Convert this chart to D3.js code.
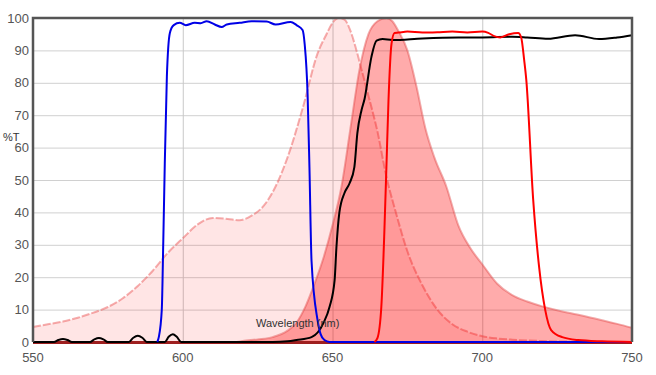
<!DOCTYPE html>
<html>
<head>
<meta charset="utf-8">
<script src="https://cdn.jsdelivr.net/npm/d3@7"></script>
<style>
  body { margin: 0; background: #fff; }
  svg { font-family: Arial, "Liberation Sans", sans-serif; }
  .tick-label { font-size: 13px; fill: #555; }
  .axis-title { font-size: 11px; fill: #333; }
</style>
</head>
<body>
<svg id="spectra"></svg>
<script>
// set svg size and plot margins
const width = 656;
const height = 375;

const margin = { top: 18, bottom: 33, left: 33, right: 24 };

const plotWidth = width - margin.left - margin.right;
const plotHeight = height - margin.top - margin.bottom;

// tick values
const xTicks = [550, 600, 650, 700, 750];
const yTicks = [0, 10, 20, 30, 40, 50, 60, 70, 80, 90, 100];
const xGridTicks = [600, 650, 700];

// [wavelength nm, %T]
const excitation = [
  [550, 4.6], [555, 5.5], [560, 6.3], [565, 7.5], [570, 9.0], [575, 10.8],
  [580, 13.5], [585, 17.3], [590, 22], [595, 27.5], [600, 32], [605, 36.3],
  [610, 38.3], [615, 38], [619, 37.6], [623, 39], [627, 42], [631, 48],
  [635, 57], [640, 72], [645, 89], [648, 95], [650, 98.5], [652, 100],
  [654, 99.5], [656, 96], [658, 90], [660, 83], [662, 76], [665, 65],
  [668, 51], [671, 40.5], [675, 28], [680, 17.5], [685, 10], [690, 5.5],
  [695, 3.2], [700, 1.8], [705, 1.1], [710, 0.7], [720, 0.3], [730, 0.1],
  [750, 0]
];

const emission = [
  [618, 0], [620, 0.3], [625, 0.8], [630, 1.5], [635, 3.5], [638, 6],
  [641, 11], [644, 18], [647, 26], [650, 36], [653, 48], [656, 66],
  [659, 84], [662, 95], [665, 99], [668, 100], [670, 99], [672, 96],
  [675, 90], [678, 79], [681, 66], [684, 57], [688, 48], [692, 36],
  [696, 29], [700, 24], [705, 18], [710, 14.5], [715, 12.5], [720, 11],
  [725, 9.8], [730, 8.8], [735, 7.8], [740, 6.7], [745, 5.6], [750, 4.4]
];

const exFilter = [
  [591.5, 0], [592, 1.5], [593, 10], [593.5, 31], [594, 55], [594.7, 82],
  [595.7, 95.4], [597, 97.8], [599, 98.5], [601, 97.8], [604, 98.5],
  [606, 98.4], [608, 99], [610.7, 98], [613, 97.2], [614.7, 98], [619, 98.5],
  [623, 99], [628, 98.9], [631, 98], [636, 98.8], [638, 97.8], [640, 96.3],
  [640.7, 92], [641.7, 76], [642.3, 54], [643, 25], [645, 6.8], [646, 2.5],
  [647.3, 0.6], [649, 0], [750, 0]
];

const dichroic = [
  [550, 0], [557, 0], [558.5, 0.6], [560, 0.9], [561.5, 0.6], [563, 0],
  [569, 0], [570.5, 0.8], [572, 1.2], [573.5, 0.8], [575, 0],
  [582, 0], [583.5, 1.3], [585, 1.9], [586.5, 1.3], [588, 0],
  [594, 0], [595.3, 1.6], [596.7, 2.4], [598, 1.6], [599.5, 0],
  [630, 0], [635, 0.2], [638, 0.6], [643, 1.5], [647, 5.9], [649, 10.8],
  [650.7, 19], [651.3, 29], [652.3, 40], [654, 46], [655.7, 49], [657.3, 54],
  [658.3, 64.5], [659.7, 71.6], [660.7, 75], [663, 88], [664.7, 93],
  [666.7, 93.5], [670, 93.2], [680, 93.7], [692, 94], [700, 94], [710, 94.2],
  [715, 94], [722, 93.6], [731, 94.7], [739, 93.5], [745, 94], [750, 94.7]
];

const emFilter = [
  [664, 0], [665, 1.2], [666.3, 10.8], [667.3, 33.6], [668, 54], [668.7, 74.7],
  [669.7, 92], [670.7, 95.4], [672, 95.5], [675, 95.8], [680, 95.5],
  [685, 95.6], [690, 95.8], [695, 95.5], [700, 95.8], [702, 95.4],
  [704, 94.4], [706, 94], [709, 95], [712, 95.4], [713, 94], [714, 87],
  [714.7, 81], [717, 44], [719, 23], [721, 10], [723, 3.7], [726.7, 1.5],
  [732, 0.6], [740, 0.2], [750, 0]
];

const svg = d3.select("#spectra")
  .attr("width", width)
  .attr("height", height);

const plot = svg.append("g").attr("transform", translate(margin.left, margin.top));

const xScale = d3.scaleLinear().domain([550, 750]).range([0, plotWidth]);
const yScale = d3.scaleLinear().domain([0, 100]).range([plotHeight, 0]);

drawGrid();
drawFills();
drawTitles();
drawLines();
drawAxis();

function drawGrid() {
  let yGrid = d3.axisLeft(yScale).tickValues(yTicks.slice(1, -1))
    .tickSize(-plotWidth).tickFormat("");
  let g = plot.append("g").attr("class", "ygrid").call(yGrid);
  g.select("path.domain").remove();
  g.selectAll("line").attr("stroke", "#d0d0d0");

  let xGrid = d3.axisBottom(xScale).tickValues(xGridTicks)
    .tickSize(-plotHeight).tickFormat("");
  let gx = plot.append("g").attr("class", "xgrid")
    .attr("transform", translate(0, plotHeight)).call(xGrid);
  gx.select("path.domain").remove();
  gx.selectAll("line").attr("stroke", "#c8c8c8");
}

function drawFills() {
  let area = d3.area()
    .x(d => xScale(d[0]))
    .y0(yScale(0))
    .y1(d => yScale(d[1]))
    .curve(d3.curveMonotoneX);

  let line = d3.line()
    .x(d => xScale(d[0]))
    .y(d => yScale(d[1]))
    .curve(d3.curveMonotoneX);

  plot.append("path").datum(excitation)
    .attr("d", area)
    .attr("fill", "rgba(255,0,0,0.1)");
  plot.append("path").datum(excitation)
    .attr("d", line)
    .attr("fill", "none")
    .attr("stroke", "rgba(235,90,90,0.5)")
    .attr("stroke-width", 2)
    .attr("stroke-dasharray", "8,2");

  plot.append("path").datum(emission)
    .attr("d", area)
    .attr("fill", "rgba(255,0,0,0.33)");
  plot.append("path").datum(emission)
    .attr("d", line)
    .attr("fill", "none")
    .attr("stroke", "rgba(225,70,70,0.45)")
    .attr("stroke-width", 2);
}

function drawLines() {
  let line = d3.line()
    .x(d => xScale(d[0]))
    .y(d => yScale(d[1]))
    .curve(d3.curveMonotoneX);

  let series = [
    { data: dichroic, color: "#000000" },
    { data: exFilter, color: "#0000e6" },
    { data: emFilter, color: "#ff0000" }
  ];

  // bottom baseline sits under the filter lines
  plot.append("line")
    .attr("x1", 0).attr("x2", plotWidth)
    .attr("y1", plotHeight + 0.5).attr("y2", plotHeight + 0.5)
    .attr("stroke", "#9e1f1f")
    .attr("stroke-width", 3);

  series.forEach(s => {
    plot.append("path").datum(s.data)
      .attr("d", line)
      .attr("fill", "none")
      .attr("stroke", s.color)
      .attr("stroke-width", 2)
      .attr("stroke-linejoin", "round");
  });
}

function drawAxis() {
  // frame: left, top and right in dark gray
  plot.append("path")
    .attr("d", "M0," + plotHeight + "V0H" + plotWidth + "V" + plotHeight)
    .attr("fill", "none")
    .attr("stroke", "#555")
    .attr("stroke-width", 2.5);

  svg.append("g").selectAll("text")
    .data(yTicks)
    .join("text")
    .attr("class", "tick-label")
    .attr("x", margin.left - 4)
    .attr("y", d => margin.top + yScale(d))
    .attr("dy", "0.36em")
    .attr("text-anchor", "end")
    .text(d => d);

  svg.append("g").selectAll("text")
    .data(xTicks)
    .join("text")
    .attr("class", "tick-label")
    .attr("x", d => margin.left + xScale(d))
    .attr("y", margin.top + plotHeight + 20)
    .attr("text-anchor", "middle")
    .text(d => d);
}

function drawTitles() {
  svg.append("text")
    .attr("class", "axis-title")
    .attr("x", 3)
    .attr("y", 141)
    .text("%T");

  svg.append("text")
    .attr("class", "axis-title")
    .attr("x", 256)
    .attr("y", 327)
    .text("Wavelength (nm)");
}

function translate(x, y) {
  return "translate(" + String(x) + "," + String(y) + ")";
}
</script>
</body>
</html>
